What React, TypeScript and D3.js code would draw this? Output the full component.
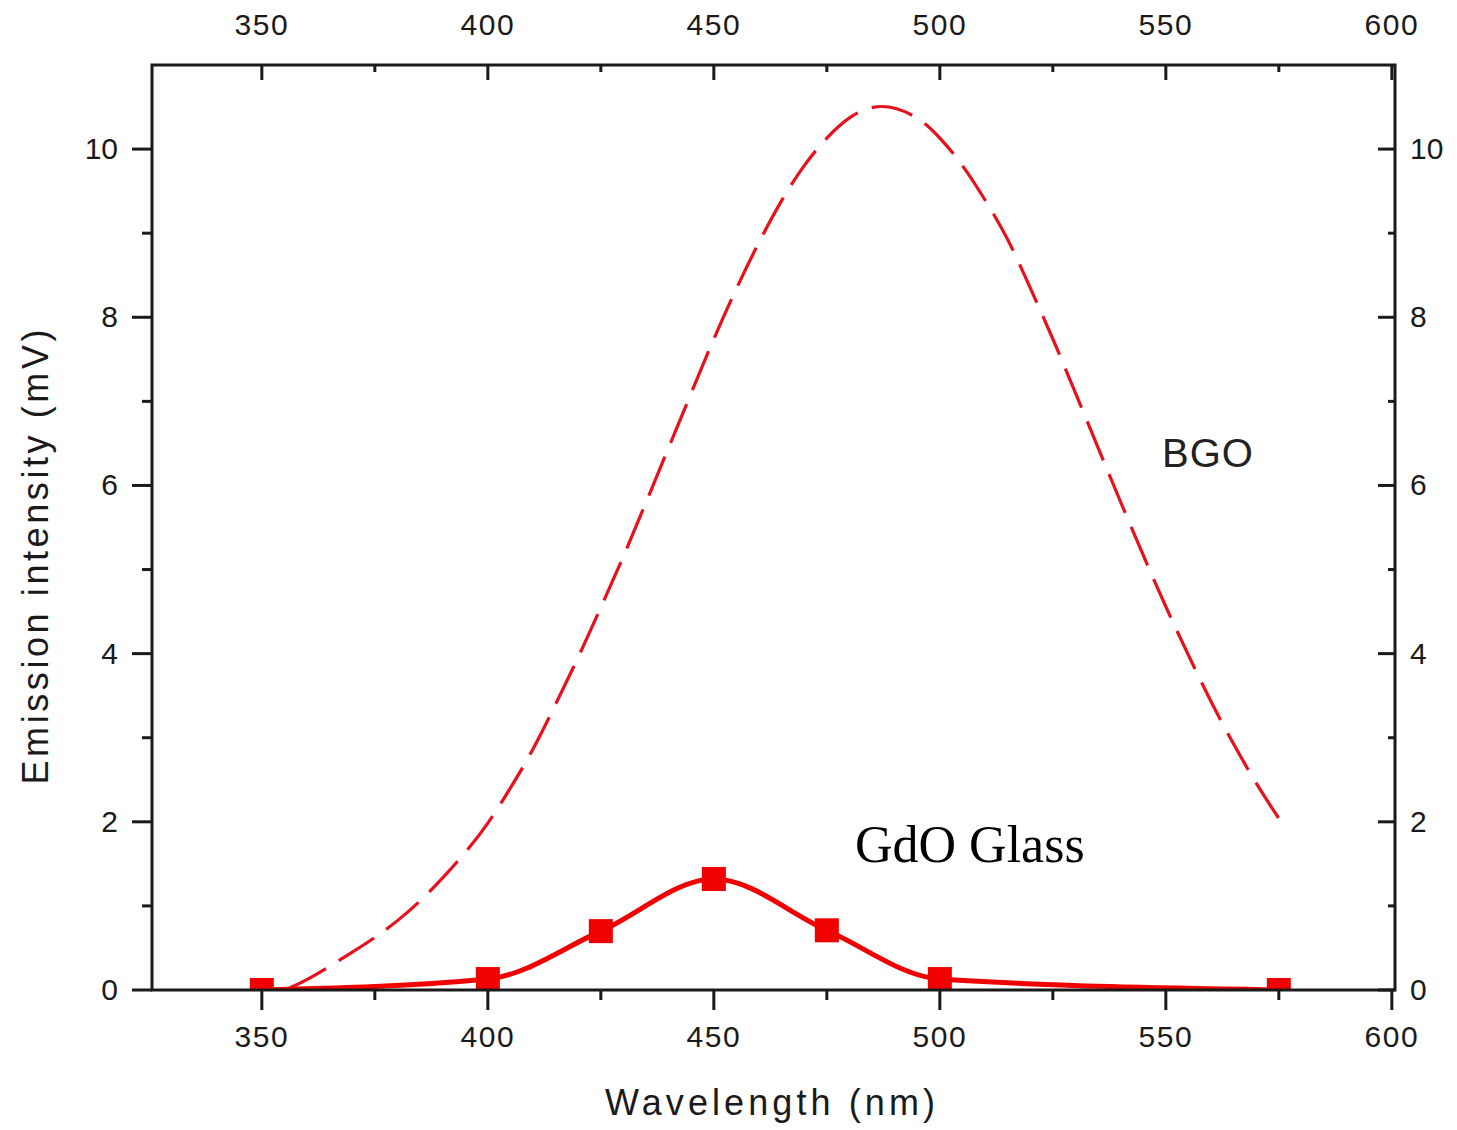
import React from 'react';
import * as d3 from 'd3';

// Tick values
const xMajorTicks = [350, 400, 450, 500, 550, 600];
const xMinorTicks = [375, 425, 475, 525, 575];
const yMajorTicks = [0, 2, 4, 6, 8, 10];
const yMinorTicks = [1, 3, 5, 7, 9];

// BGO emission (dashed curve)
const bgoWavelength = [356, 360, 365, 370, 375, 380, 385, 390, 395, 400, 405, 410, 415, 420, 425, 430, 435, 440, 445, 450,
    455, 460, 465, 470, 475, 480, 487, 495, 500, 505, 510, 515, 520, 525, 530, 535, 540, 545, 550, 555, 560, 565, 570, 575];
const bgoIntensity = [0.02, 0.12, 0.28, 0.45, 0.62, 0.82, 1.05, 1.33, 1.63, 1.97, 2.4, 2.85, 3.4, 3.95, 4.55, 5.15, 5.8, 6.45, 7.1, 7.75,
    8.35, 8.9, 9.4, 9.82, 10.14, 10.4, 10.56, 10.4, 10.14, 9.82, 9.4, 8.95, 8.35, 7.75, 7.1, 6.45, 5.8, 5.17, 4.55, 3.98, 3.42, 2.92, 2.45, 2.04];

// GdO glass emission (solid line + square markers)
const gdoWavelength = [350, 400, 425, 450, 475, 500, 575];
const gdoIntensity = [0.0, 0.13, 0.7, 1.32, 0.71, 0.13, 0.0];

const W = 1457;
const H = 1130;
const left = 152;
const right = 1395;
const top = 65;
const bottom = 990;

const App = () => {
    // Scales
    const x = d3.scaleLinear().domain([325.7, 600.7]).range([left, right]);
    const y = d3.scaleLinear().domain([0, 11]).range([bottom, top]);

    const bgo = bgoWavelength.map((w, i) => [w, bgoIntensity[i]] as [number, number]);
    const gdo = gdoWavelength.map((w, i) => [w, gdoIntensity[i]] as [number, number]);

    const bgoLine = d3.line<[number, number]>()
        .x(d => x(d[0]))
        .y(d => y(d[1]))
        .curve(d3.curveBasis);

    const gdoLine = d3.line<[number, number]>()
        .x(d => x(d[0]))
        .y(d => y(d[1]))
        .curve(d3.curveMonotoneX);

    const sans = '"Liberation Sans", Arial, sans-serif';
    const tickFont = 30;
    const ink = '#1a1a1a';
    const red = '#f00000';
    const marker = 24;

    return (
        <svg width={W} height={H} style={{ position: 'absolute', left: 0, top: 0, background: '#fff' }}>
            <defs>
                <clipPath id="plot">
                    <rect x={left} y={top} width={right - left} height={bottom - top} />
                </clipPath>
            </defs>

            {/* BGO dashed curve */}
            <path d={bgoLine(bgo) || ''} fill="none" stroke="#e8101c" strokeWidth={3.2}
                strokeDasharray="42,15" clipPath="url(#plot)" />

            {/* GdO glass line and markers */}
            <g clipPath="url(#plot)">
                <path d={gdoLine(gdo) || ''} fill="none" stroke={red} strokeWidth={5} />
                {gdo.map((d, i) => (
                    <rect key={i} x={x(d[0]) - marker / 2} y={y(d[1]) - marker / 2}
                        width={marker} height={marker} fill={red} />
                ))}
            </g>

            {/* Frame */}
            <rect x={left} y={top} width={right - left} height={bottom - top}
                fill="none" stroke={ink} strokeWidth={3} />

            {/* Bottom axis: ticks outward */}
            {xMajorTicks.map(t => (
                <g key={'bx' + t}>
                    <line x1={x(t)} x2={x(t)} y1={bottom} y2={bottom + 20} stroke={ink} strokeWidth={3} />
                    <text x={x(t)} y={bottom + 57} textAnchor="middle" fontFamily={sans}
                        fontSize={tickFont} letterSpacing={1.5} fill={ink}>{t}</text>
                </g>
            ))}
            {xMinorTicks.map(t => (
                <line key={'bm' + t} x1={x(t)} x2={x(t)} y1={bottom} y2={bottom + 10} stroke={ink} strokeWidth={3} />
            ))}

            {/* Top axis: ticks inward */}
            {xMajorTicks.map(t => (
                <g key={'tx' + t}>
                    <line x1={x(t)} x2={x(t)} y1={top} y2={top + 15} stroke={ink} strokeWidth={3} />
                    <text x={x(t)} y={top - 30} textAnchor="middle" fontFamily={sans}
                        fontSize={tickFont} letterSpacing={1.5} fill={ink}>{t}</text>
                </g>
            ))}
            {xMinorTicks.map(t => (
                <line key={'tm' + t} x1={x(t)} x2={x(t)} y1={top} y2={top + 7} stroke={ink} strokeWidth={3} />
            ))}

            {/* Left axis: ticks outward */}
            {yMajorTicks.map(t => (
                <g key={'ly' + t}>
                    <line x1={left - 20} x2={left} y1={y(t)} y2={y(t)} stroke={ink} strokeWidth={3} />
                    <text x={left - 34} y={y(t) + 10} textAnchor="end" fontFamily={sans}
                        fontSize={tickFont} fill={ink}>{t}</text>
                </g>
            ))}
            {yMinorTicks.map(t => (
                <line key={'lm' + t} x1={left - 10} x2={left} y1={y(t)} y2={y(t)} stroke={ink} strokeWidth={3} />
            ))}

            {/* Right axis: ticks inward */}
            {yMajorTicks.map(t => (
                <g key={'ry' + t}>
                    <line x1={right - 17} x2={right} y1={y(t)} y2={y(t)} stroke={ink} strokeWidth={3} />
                    <text x={right + 15} y={y(t) + 10} textAnchor="start" fontFamily={sans}
                        fontSize={tickFont} fill={ink}>{t}</text>
                </g>
            ))}
            {yMinorTicks.map(t => (
                <line key={'rm' + t} x1={right - 7} x2={right} y1={y(t)} y2={y(t)} stroke={ink} strokeWidth={3} />
            ))}

            {/* Axis titles */}
            <text x={770} y={1115} textAnchor="middle" fontFamily={sans} fontSize={36}
                textLength={330} lengthAdjust="spacing" fill={ink}>Wavelength (nm)</text>
            <text transform="translate(48,557) rotate(-90)" textAnchor="middle" fontFamily={sans}
                fontSize={36} textLength={455} lengthAdjust="spacing" fill={ink}>Emission intensity (mV)</text>

            {/* Series labels */}
            <text x={1162} y={467} fontFamily={sans} fontSize={40} letterSpacing={1} fill="#222">BGO</text>
            <text x={855} y={862} fontFamily='"Liberation Serif", "Times New Roman", serif' fontSize={52}
                fill="#000">GdO Glass</text>
        </svg>
    );
};

export default App;
